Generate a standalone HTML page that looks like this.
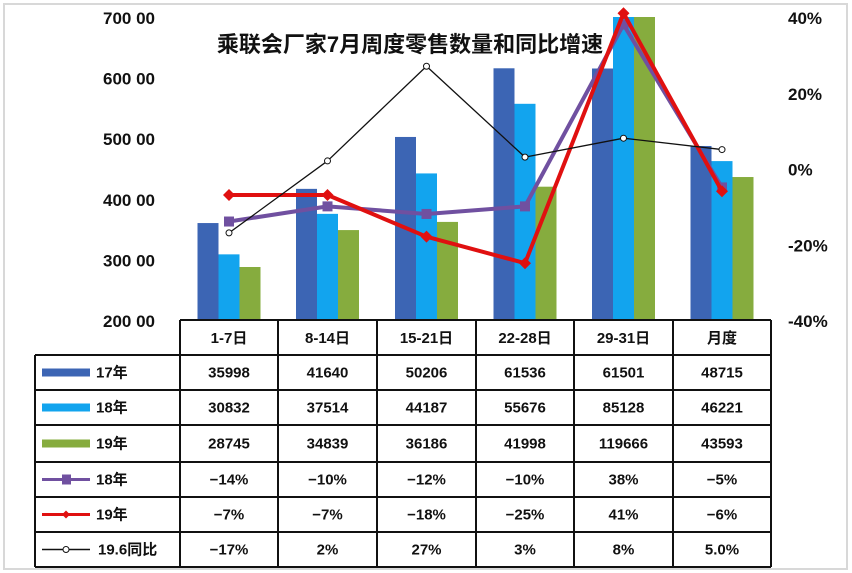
<!DOCTYPE html>
<html><head><meta charset="utf-8"><style>
body{margin:0;background:#fff;}
svg{display:block;font-family:"Liberation Sans","Noto Sans CJK SC",sans-serif;}
</style></head><body>
<svg id="c" width="852" height="573" viewBox="0 0 852 573">
<rect x="4" y="4" width="843" height="565" fill="#fff" stroke="#d8d8d8" stroke-width="2"/>
<text x="410" y="52" font-size="22" font-weight="bold" text-anchor="middle" fill="#111">乘联会厂家7月周度零售数量和同比增速</text>
<g id="axes"></g><g id="bars"></g><g id="lines"></g><g id="table"></g>
</svg>
<script>
const categories=["1-7日","8-14日","15-21日","22-28日","29-31日","月度"];
const sales17=[35998,41640,50206,61536,61501,48715];
const sales18=[30832,37514,44187,55676,85128,46221];
const sales19=[28745,34839,36186,41998,119666,43593];
const yoy18=[-14,-10,-12,-10,38,-5];
const yoy19=[-7,-7,-18,-25,41,-6];
const yoy196=[-17,2,27,3,8,5.0];
const yoy196Labels=["-17%","2%","27%","3%","8%","5.0%"];
const leftTicks=[200,300,400,500,600,700];
const rightTicks=[-40,-20,0,20,40];

const NS="http://www.w3.org/2000/svg";
const colEdges=[180,278,377,476,574,673,771];
const plotTop=17,plotBot=320;
function yL(v){return plotBot-(v/100-200)/500*(plotBot-plotTop);}
function yR(p){return plotBot-(p+40)/80*(plotBot-plotTop);}
function xC(i){return (colEdges[i]+colEdges[i+1])/2;}
function mk(tag,attrs,parent){const e=document.createElementNS(NS,tag);for(const k in attrs)e.setAttribute(k,attrs[k]);parent.appendChild(e);return e;}
const gA=document.getElementById('axes'),gB=document.getElementById('bars'),gL=document.getElementById('lines'),gT=document.getElementById('table');

leftTicks.forEach(t=>{const e=mk('text',{x:155,y:yL(t*100)+7,'font-size':17,'font-weight':'bold','text-anchor':'end',fill:'#111'},gA);e.textContent=t+" 00";

});
rightTicks.forEach(t=>{const e=mk('text',{x:788,y:yR(t)+7,'font-size':17,'font-weight':'bold',fill:'#111'},gA);e.textContent=t+"%";

});

const series=[[sales17,'#3c65b4','bar-17'],[sales18,'#12a4ee','bar-18'],[sales19,'#86ac3e','bar-19']];
const bw=21;
categories.forEach((c,i)=>{series.forEach((s,j)=>{const v=Math.min(s[0][i]/100,700);const y=yL(v*100);
const r=mk('rect',{x:xC(i)-1.5*bw+j*bw,y:y,width:bw,height:plotBot-y,fill:s[1]},gB);

});});

function line(vals,color,w,name,marker){const pts=vals.map((v,i)=>[xC(i),yR(v)]);
const p=mk('polyline',{points:pts.map(p=>p.join(',')).join(' '),fill:'none',stroke:color,'stroke-width':w,'stroke-linejoin':'round'},gL);


pts.forEach(q=>{let m;
if(marker==='sq')m=mk('rect',{x:q[0]-5,y:q[1]-5,width:10,height:10,fill:color},gL);
else if(marker==='dia')m=mk('polygon',{points:`${q[0]},${q[1]-6} ${q[0]+6},${q[1]} ${q[0]},${q[1]+6} ${q[0]-6},${q[1]}`,fill:color},gL);
else m=mk('circle',{cx:q[0],cy:q[1],r:3,fill:'#fff',stroke:color,'stroke-width':1},gL);

});}
line(yoy18,'#7050a0',4,'line-yoy-18','sq');
line(yoy19,'#e01010',4,'line-yoy-19','dia');
line(yoy196,'#111',1.3,'line-yoy-196','circ');

const rowEdges=[320,355,390,425,462,497,532,567];
const tl=35;
function txt(x,y,s,name,anchor){const e=mk('text',{x:x,y:y,'font-size':15,'font-weight':'bold','text-anchor':anchor||'middle',fill:'#111'},gT);e.textContent=s;

}
mk('line',{x1:180,y1:320,x2:771,y2:320,stroke:'#111','stroke-width':2},gT);
for(let r=1;r<rowEdges.length;r++)mk('line',{x1:tl,y1:rowEdges[r],x2:771,y2:rowEdges[r],stroke:'#111','stroke-width':2},gT);
colEdges.forEach(x=>mk('line',{x1:x,y1:320,x2:x,y2:567,stroke:'#111','stroke-width':2},gT));
mk('line',{x1:tl,y1:355,x2:tl,y2:567,stroke:'#111','stroke-width':2},gT);
categories.forEach((c,i)=>txt(xC(i),343,c,'category-label'));
const rows=[sales17.map(String),sales18.map(String),sales19.map(String),yoy18.map(v=>v+'%'),yoy19.map(v=>v+'%'),yoy196Labels];
const rowNames=['17年','18年','19年','18年','19年','19.6同比'];
rows.forEach((r,k)=>{const cy=(rowEdges[k+1]+rowEdges[k+2])/2+5;
r.forEach((s,i)=>txt(xC(i),cy,s.replace('-','−'),'table-cell'));
txt(k===5?98:96,cy,rowNames[k],'legend-label','start');
const ly=cy-5;
if(k<3){const e=mk('rect',{x:42,y:ly-4,width:48,height:8,fill:series[k][1]},gT);}
else{const col=k===3?'#7050a0':k===4?'#e01010':'#111';mk('line',{x1:42,y1:ly,x2:90,y2:ly,stroke:col,'stroke-width':k===5?1.5:3},gT);
if(k===3)mk('rect',{x:62,y:ly-5,width:9,height:10,fill:col},gT);
if(k===4)mk('polygon',{points:`66,${ly-4} 70,${ly} 66,${ly+4} 62,${ly}`,fill:col},gT);
if(k===5)mk('circle',{cx:66,cy:ly,r:3,fill:'#fff',stroke:col},gT);}
});
</script>
</body></html>
